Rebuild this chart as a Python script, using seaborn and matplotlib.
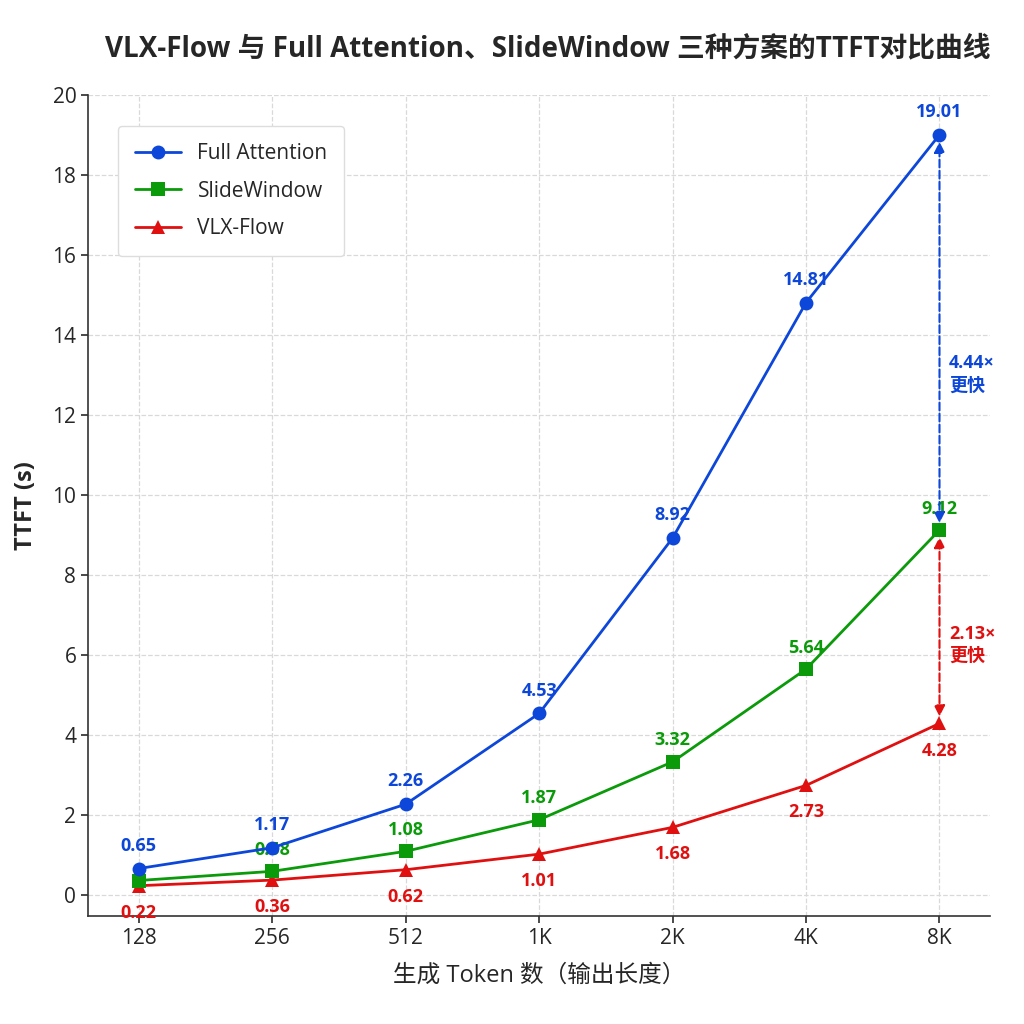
import numpy as np
import pandas as pd
import seaborn as sns
import matplotlib.pyplot as plt

token_labels = ['128', '256', '512', '1K', '2K', '4K', '8K']
full_attention = [0.65, 1.17, 2.26, 4.53, 8.92, 14.81, 19.01]
slide_window = [0.35, 0.58, 1.08, 1.87, 3.32, 5.64, 9.12]
vlx_flow = [0.22, 0.36, 0.62, 1.01, 1.68, 2.73, 4.28]

sns.set_theme(style="whitegrid")
plt.rcParams['font.family'] = ['Open Sans', 'Noto Sans CJK SC', 'DejaVu Sans']
plt.rcParams['axes.unicode_minus'] = False

x = np.arange(len(token_labels))
df = pd.DataFrame({
    'x': np.tile(x, 3),
    'ttft': full_attention + slide_window + vlx_flow,
    'scheme': ['Full Attention'] * 7 + ['SlideWindow'] * 7 + ['VLX-Flow'] * 7,
})

colors = {'Full Attention': '#0d47d9', 'SlideWindow': '#0a9a0a', 'VLX-Flow': '#e01010'}
markers = {'Full Attention': 'o', 'SlideWindow': 's', 'VLX-Flow': '^'}
zorders = {'Full Attention': 5, 'SlideWindow': 4, 'VLX-Flow': 3}

fig, ax = plt.subplots(figsize=(10.24, 10.24), dpi=100)
fig.subplots_adjust(left=0.086, right=0.967, top=0.907, bottom=0.105)

for name in ['Full Attention', 'SlideWindow', 'VLX-Flow']:
    sub = df[df.scheme == name]
    sns.lineplot(data=sub, x='x', y='ttft', ax=ax, color=colors[name], marker=markers[name],
                 markersize=10, linewidth=2, markeredgewidth=0, label=name, zorder=zorders[name])

# value labels
for xi, v in zip(x, full_attention):
    ax.annotate(f'{v:.2f}', (xi, v), xytext=(0, 10), textcoords='offset points', ha='center',
                va='bottom', color=colors['Full Attention'], fontsize=13, fontweight='bold', zorder=6)
for xi, v in zip(x[1:], slide_window[1:]):
    ax.annotate(f'{v:.2f}', (xi, v), xytext=(0, 9), textcoords='offset points', ha='center',
                va='bottom', color=colors['SlideWindow'], fontsize=13, fontweight='bold', zorder=2)
for xi, v in zip(x, vlx_flow):
    ax.annotate(f'{v:.2f}', (xi, v), xytext=(0, -13), textcoords='offset points', ha='center',
                va='top', color=colors['VLX-Flow'], fontsize=13, fontweight='bold', zorder=6)

# speedup arrows at 8K
xe = x[-1]
ax.annotate('', xy=(xe, full_attention[-1]), xytext=(xe, slide_window[-1]),
            arrowprops=dict(arrowstyle='<|-|>', linestyle='--', color=colors['Full Attention'],
                            lw=1.5, mutation_scale=16, shrinkA=5, shrinkB=5), zorder=7)
ax.annotate('', xy=(xe, slide_window[-1]), xytext=(xe, vlx_flow[-1]),
            arrowprops=dict(arrowstyle='<|-|>', linestyle='--', color=colors['VLX-Flow'],
                            lw=1.5, mutation_scale=16, shrinkA=5, shrinkB=5), zorder=7)
ax.text(xe + 0.07, (full_attention[-1] + slide_window[-1]) / 2 - 1.05,
        f'{full_attention[-1] / vlx_flow[-1]:.2f}×\n更快', color=colors['Full Attention'],
        fontsize=13, fontweight='bold', va='center', ha='left', linespacing=1.3)
ax.text(xe + 0.07, (slide_window[-1] + vlx_flow[-1]) / 2 - 0.45,
        f'{slide_window[-1] / vlx_flow[-1]:.2f}×\n更快', color=colors['VLX-Flow'],
        fontsize=13, fontweight='bold', va='center', ha='left', linespacing=1.3)

ax.set_xticks(x)
ax.set_xticklabels(token_labels)
ax.set_xlim(-0.38, 6.38)
ax.set_ylim(-0.55, 20)
ax.set_yticks(np.arange(0, 21, 2))
ax.tick_params(axis='both', labelsize=15, length=5, color='#333333', left=True, bottom=True)
ax.grid(True, linestyle='--', color='#d9d9d9', linewidth=0.9)
ax.set_facecolor('white')
for s in ['top', 'right']:
    ax.spines[s].set_visible(False)
for s in ['left', 'bottom']:
    ax.spines[s].set_color('#333333')
    ax.spines[s].set_linewidth(1.2)

ax.set_xlabel('生成 Token 数（输出长度）', fontsize=17, labelpad=10)
ax.set_ylabel('TTFT (s)', fontsize=17, fontweight='bold', labelpad=10)
ax.set_title('VLX-Flow 与 Full Attention、SlideWindow 三种方案的TTFT对比曲线',
             fontsize=20, fontweight='bold', pad=28, x=0.51)

ax.legend(loc='upper left', bbox_to_anchor=(0.022, 0.975), fontsize=15, frameon=True,
          fancybox=True, framealpha=1, edgecolor='#dddddd', borderpad=0.8, labelspacing=0.8,
          handlelength=2.2)

fig.savefig('out.png', dpi=100, facecolor='white')
